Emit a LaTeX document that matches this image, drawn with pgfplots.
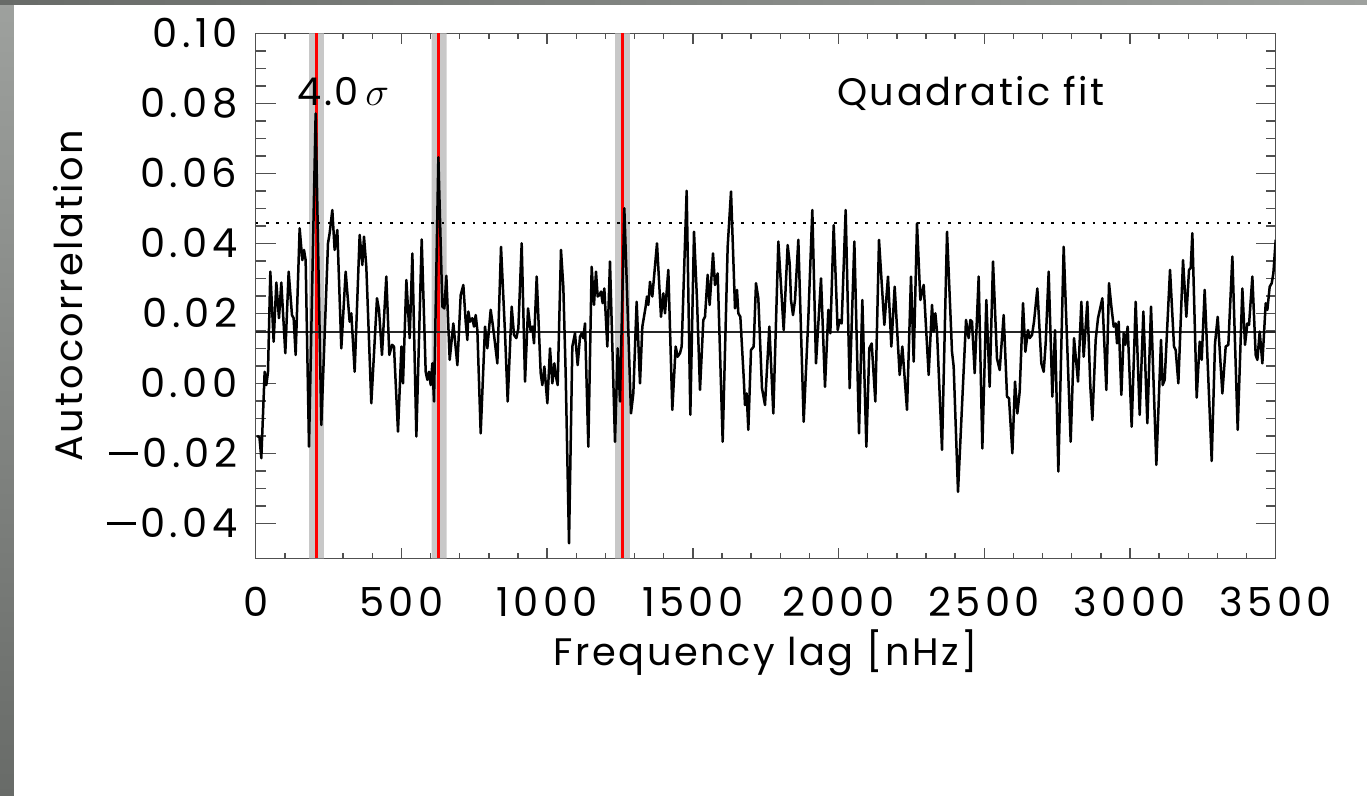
\documentclass[border=0pt]{standalone}
\usepackage{fontspec}
\setmainfont{Poppins}[LetterSpace=6.5]
\newfontfamily\tickfont{Poppins}[LetterSpace=11]
\usepackage{pgfplots}
\pgfplotsset{compat=1.18}
\definecolor{bandgray}{RGB}{200,200,200}
\definecolor{frameA}{RGB}{158,161,158}
\definecolor{frameB}{RGB}{104,107,104}
\definecolor{axisgray}{RGB}{80,80,80}
\newcommand{\mminus}{\raisebox{0.33em}{\rule{0.72em}{0.075em}}\hspace{0.12em}}

\begin{document}
\begin{tikzpicture}
\useasboundingbox (-76.71pt,-71.25pt) rectangle (333.39pt,167.49pt);
\shade[top color=frameA,bottom color=frameB] (-76.71pt,-71.25pt) rectangle (-72.51pt,167.49pt);
\shade[left color=frameB,right color=frameA] (-76.71pt,166.2pt) rectangle (333.39pt,167.49pt);
\begin{axis}[
  at={(0pt,0pt)}, anchor=south west,
  scale only axis, width=306pt, height=157.5pt,
  xmin=0, xmax=3500, ymin=-0.05, ymax=0.10,
  axis line style={axisgray, line width=0.45pt},
  every tick/.style={axisgray, line width=0.45pt},
  xtick={0,500,1000,1500,2000,2500,3000,3500},
  xticklabels={0,500,1000,1500,2000,2500,3000,3500},
  ytick={-0.04,-0.02,0,0.02,0.04,0.06,0.08,0.10},
  yticklabels={\mminus 0.04,\mminus 0.02,0.00,0.02,0.04,0.06,0.08,0.10},
  minor x tick num=4, minor y tick num=3,
  xtick style={/pgfplots/major tick length=3.15pt,/pgfplots/minor tick length=1.6pt},
  ytick style={/pgfplots/major tick length=6pt,/pgfplots/minor tick length=3pt},
  tick align=inside,
  ticklabel style={font=\tickfont\fontsize{12}{14}\selectfont},
  yticklabel style={anchor=east, inner sep=0pt, xshift=-5.3pt},
  xticklabel style={anchor=north, inner sep=0pt, yshift=-8.5pt},
  xlabel={Frequency lag [nHz]},
  ylabel={Autocorrelation},
  label style={font=\fontsize{11.5}{13}\selectfont},
  xlabel style={at={(axis description cs:0.5,-0.179)}, anchor=center, inner sep=0pt},
  ylabel style={at={(axis description cs:-0.184,0.5)}, anchor=center, inner sep=0pt, rotate=0},
  clip=true,
]
% significance bands
\addplot[draw=none, fill=bandgray] coordinates {(183,-0.05) (234,-0.05) (234,0.10) (183,0.10)} \closedcycle;
\addplot[draw=none, fill=bandgray] coordinates {(604,-0.05) (655,-0.05) (655,0.10) (604,0.10)} \closedcycle;
\addplot[draw=none, fill=bandgray] coordinates {(1233,-0.05) (1284,-0.05) (1284,0.10) (1233,0.10)} \closedcycle;
\addplot[red, line width=0.85pt] coordinates {(208,-0.05) (208,0.10)};
\addplot[red, line width=0.85pt] coordinates {(627,-0.05) (627,0.10)};
\addplot[red, line width=0.85pt] coordinates {(1258,-0.05) (1258,0.10)};
% mean and threshold
\addplot[black!85, line width=0.6pt] coordinates {(0,0.0146) (3500,0.0146)};
\addplot[black, line width=0.75pt, dash pattern=on 0.8pt off 2.3pt] coordinates {(0,0.0458) (3500,0.0458)};
% autocorrelation
\addplot[black, line width=0.75pt, line join=round] coordinates {
(5,-0.0150) (13,-0.0155) (19.3,-0.0214) (30.7,0.0033) (36.5,-0.0005) (42.2,0.0033)
(50.2,0.0319) (61.6,0.0119) (70.8,0.0288) (79.9,0.0186) (87.9,0.0288) (101.6,0.0086)
(113.1,0.0319) (124.5,0.0195) (130.2,0.0186) (137.1,0.0081) (150.8,0.0443) (160.0,0.0352)
(165.7,0.0381) (171.4,0.0352) (182.9,-0.0181) (205.7,0.0771) (225.2,-0.0119) (234.3,0.0086)
(248.1,0.0400) (253.8,0.0429) (262.9,0.0495) (270.9,0.0381) (280.1,0.0438) (293.8,0.0100)
(308.7,0.0319) (322.4,0.0176) (328.1,0.0200) (339.6,0.0033) (356.7,0.0424) (365.9,0.0338)
(371.6,0.0419) (379.6,0.0333) (396.7,-0.0057) (416.2,0.0243) (423.1,0.0210) (433.3,0.0081)
(448.2,0.0305) (458.5,0.0081) (467.7,0.0110) (474.5,0.0105) (488.3,-0.0138) (500.0,0.0105)
(505.5,0.0000) (517.0,0.0295) (528.4,0.0129) (537.6,0.0371) (551.3,-0.0152) (569.6,0.0411)
(583.3,0.0033) (589.0,0.0010) (594.7,0.0033) (600.5,-0.0005) (606.2,0.0057) (611.9,-0.0052)
(626.8,0.0646) (640.5,0.0219) (647.4,0.0214) (654.2,0.0307) (665.7,0.0067) (678.2,0.0171)
(692.0,0.0052) (703.4,0.0252) (712.5,0.0281) (720.6,0.0176) (726.3,0.0124) (729.7,0.0205)
(735.4,0.0176) (743.4,0.0186) (749.2,0.0162) (754.9,0.0195) (760.6,0.0152) (772.0,-0.0143)
(786.9,0.0162) (794.9,0.0100) (806.3,0.0210) (812.1,0.0176) (817.8,0.0138) (829.2,0.0057)
(841.8,0.0390) (855.5,0.0143) (864.7,-0.0052) (878.4,0.0219) (886.4,0.0138) (894.4,0.0129)
(901.3,0.0157) (912.7,0.0400) (924.2,0.0005) (934.5,0.0214) (943.6,0.0148) (949.3,0.0162)
(955.0,0.0114) (964.2,0.0305) (977.9,0.0029) (983.6,-0.0005) (990.5,0.0048) (1000.8,-0.0057)
(1009.9,0.0100) (1017.9,0.0000) (1024.7,0.0057) (1030.4,0.0019) (1036.2,-0.0005) (1047.6,0.0381)
(1055.6,0.0276) (1063.6,0.0029) (1075.1,-0.0457) (1086.5,0.0105) (1095.6,0.0143) (1104.8,0.0052)
(1112.8,0.0133) (1118.5,0.0143) (1124.2,0.0129) (1130.0,0.0171) (1141.4,-0.0181) (1152.8,0.0333)
(1160.8,0.0224) (1167.7,0.0319) (1173.4,0.0248) (1179.1,0.0252) (1184.9,0.0262) (1190.6,0.0229)
(1196.3,0.0271) (1206.6,0.0105) (1215.7,0.0348) (1232.9,-0.0167) (1242.1,0.0100) (1250.1,-0.0052)
(1264.9,0.0500) (1287.8,-0.0086) (1295.8,-0.0029) (1307.2,0.0233) (1318.7,0.0000) (1326.7,0.0162)
(1332.4,0.0190) (1338.1,0.0219) (1342.7,0.0248) (1347.3,0.0224) (1353.0,0.0290) (1361.0,0.0248)
(1377.0,0.0400) (1390.7,0.0190) (1398.7,0.0257) (1404.5,0.0200) (1415.9,0.0324) (1429.6,-0.0076)
(1441.1,0.0105) (1447.9,0.0076) (1455.9,0.0086) (1461.7,0.0105) (1478.8,0.0550) (1491.4,-0.0090)
(1504.0,0.0433) (1514.3,0.0238) (1524.6,-0.0019) (1536.0,0.0181) (1541.7,0.0190) (1550.9,0.0310)
(1557.7,0.0224) (1569.2,0.0371) (1576.1,0.0281) (1585.2,0.0314) (1602.4,-0.0167) (1619.5,0.0390)
(1631.0,0.0548) (1644.7,0.0214) (1651.5,0.0267) (1656.1,0.0200) (1663.0,0.0190) (1674.4,0.0019)
(1679.0,-0.0062) (1684.7,-0.0029) (1690.4,-0.0133) (1699.6,0.0095) (1708.7,0.0105) (1716.7,0.0286)
(1724.7,0.0243) (1737.3,-0.0014) (1747.6,-0.0062) (1762.5,0.0162) (1776.2,-0.0086) (1793.4,0.0405)
(1811.7,0.0152) (1825.4,0.0395) (1832.3,0.0343) (1836.8,0.0238) (1843.7,0.0195) (1850.6,0.0238)
(1862.0,0.0410) (1880.3,-0.0110) (1896.3,0.0186) (1910.0,0.0495) (1922.6,0.0057) (1939.8,0.0300)
(1953.5,-0.0010) (1965.0,0.0210) (1971.8,0.0143) (1983.3,0.0452) (1997.0,0.0152) (2003.9,0.0181)
(2010.7,0.0171) (2024.4,0.0495) (2038.2,-0.0014) (2054.2,0.0405) (2070.2,-0.0143) (2081.6,0.0238)
(2095.4,-0.0181) (2105.6,0.0100) (2113.7,0.0114) (2126.2,-0.0052) (2138.8,0.0410) (2157.1,0.0167)
(2169.7,0.0305) (2181.1,0.0105) (2192.6,0.0276) (2209.7,0.0024) (2218.9,0.0105) (2234.9,-0.0076)
(2248.6,0.0305) (2257.8,0.0062) (2269.2,0.0457) (2280.7,0.0238) (2292.1,0.0281) (2309.2,0.0024)
(2320.7,0.0224) (2326.4,0.0148) (2332.1,0.0200) (2337.8,0.0148) (2355.0,-0.0190) (2372.2,0.0433)
(2389.3,0.0090) (2395.0,0.0048) (2409.9,-0.0310) (2437.4,0.0181) (2446.5,0.0129) (2452.2,0.0181)
(2458.0,0.0176) (2467.1,0.0029) (2480.8,0.0305) (2493.4,-0.0186) (2507.1,0.0238) (2518.5,-0.0010)
(2530.0,0.0348) (2543.7,0.0071) (2552.9,0.0038) (2566.6,0.0195) (2578.1,-0.0038) (2584.9,-0.0043)
(2596.4,-0.0200) (2605.5,0.0005) (2613.5,-0.0086) (2621.5,-0.0024) (2633.0,0.0229) (2641.0,0.0090)
(2650.1,0.0152) (2655.8,0.0129) (2663.8,0.0138) (2670.7,0.0176) (2682.1,0.0271) (2695.9,0.0057)
(2703.9,0.0033) (2710.7,0.0114) (2721.0,0.0319) (2733.6,-0.0038) (2742.8,0.0152) (2754.2,-0.0252)
(2772.5,0.0390) (2796.5,-0.0167) (2808.0,0.0129) (2821.7,0.0005) (2833.1,0.0233) (2841.1,0.0076)
(2853.7,0.0233) (2864.0,-0.0010) (2870.9,-0.0105) (2882.3,0.0124) (2890.3,0.0186) (2905.2,0.0243)
(2918.9,-0.0019) (2928.1,0.0286) (2936.1,0.0219) (2944.1,0.0162) (2950.9,0.0171) (2955.5,0.0114)
(2961.2,0.0176) (2970.4,-0.0033) (2978.4,0.0143) (2984.1,0.0110) (2992.1,0.0162) (3005.8,-0.0124)
(3019.6,0.0233) (3033.3,-0.0090) (3045.9,0.0205) (3059.6,-0.0114) (3072.2,0.0219) (3090.5,-0.0233)
(3106.5,0.0124) (3112.2,-0.0005) (3119.1,0.0010) (3137.4,0.0324) (3151.1,0.0105) (3156.8,0.0095)
(3166.0,0.0000) (3182.0,0.0352) (3193.4,0.0190) (3202.6,0.0324) (3208.3,0.0329) (3214.0,0.0429)
(3228.9,-0.0041) (3239.2,0.0119) (3246.1,0.0067) (3256.3,0.0267) (3280.4,-0.0222) (3291.8,0.0114)
(3301.0,0.0190) (3317.0,-0.0029) (3328.4,0.0105) (3337.5,0.0110) (3351.3,0.0362) (3369.6,-0.0133)
(3385.6,0.0271) (3394.7,0.0110) (3402.7,0.0171) (3408.5,0.0167) (3419.9,0.0305) (3431.3,0.0081)
(3437.1,0.0067) (3445.1,0.0148) (3454.2,0.0057) (3465.7,0.0229) (3471.4,0.0210) (3479.4,0.0276)
(3486.3,0.0286) (3492.0,0.0314) (3500,0.0410)
};
\node[anchor=base west, inner sep=0pt, font=\fontsize{11.5}{13}\selectfont] at (axis cs:142,0.0795) {4.0\,{\fontsize{13}{14}\selectfont$\sigma$}};
\node[anchor=base, inner sep=0pt, font=\fontsize{11.5}{13}\selectfont] at (axis cs:2454,0.0795) {Quadratic fit};
\end{axis}
\end{tikzpicture}
\end{document}
